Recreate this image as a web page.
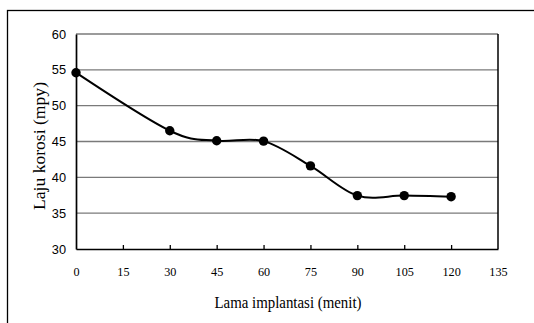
<!DOCTYPE html>
<html>
<head>
<meta charset="utf-8">
<script src="https://cdn.jsdelivr.net/npm/d3@7"></script>
<style>
  body { margin: 0; background: #fff; }
  svg { display: block; }
</style>
</head>
<body>
<div id="chart"></div>
<script>
// data
let minutes = [0, 30, 45, 60, 75, 90, 105, 120]
let rates = [54.6, 46.5, 45.1, 45.05, 41.6, 37.45, 37.45, 37.3]
let xTicks = [0, 15, 30, 45, 60, 75, 90, 105, 120, 135]
let yTicks = [30, 35, 40, 45, 50, 55, 60]

let width = 534
let height = 323
let margin = { top: 34, left: 76, right: 36, bottom: 74 }

let serif = 'Liberation Serif, Times New Roman, serif'

let svg = d3
  .select('#chart')
  .append('svg')
  .attr('width', width)
  .attr('height', height)

// outer frame (only left and top edges fall inside the picture)
svg
  .append('rect')
  .attr('x', 7.5)
  .attr('y', 10.5)
  .attr('width', 540)
  .attr('height', 330)
  .attr('fill', 'none')
  .attr('stroke', '#000')
  .attr('stroke-width', 1.3)

let xScale = d3
  .scaleLinear()
  .domain([0, 135])
  .range([margin.left, width - margin.right])

let yScale = d3
  .scaleLinear()
  .domain([30, 60])
  .range([height - margin.bottom, margin.top])

// gridlines
svg
  .selectAll('.grid')
  .data(yTicks.filter(d => d > 30))
  .enter()
  .append('line')
  .attr('class', 'grid')
  .attr('x1', xScale(0))
  .attr('x2', xScale(135))
  .attr('y1', d => yScale(d))
  .attr('y2', d => yScale(d))
  .attr('stroke', '#7a7a7a')
  .attr('stroke-width', 1.3)

// right border of the plot
svg
  .append('line')
  .attr('x1', xScale(135))
  .attr('x2', xScale(135))
  .attr('y1', yScale(60))
  .attr('y2', yScale(30))
  .attr('stroke', '#000')
  .attr('stroke-width', 1.5)

// x axis with inner ticks
let xAxis = d3
  .axisBottom(xScale)
  .tickValues(xTicks)
  .tickSizeInner(-4)
  .tickSizeOuter(0)
  .tickPadding(17)

let gx = svg
  .append('g')
  .attr('transform', `translate(0,${yScale(30)})`)
  .call(xAxis)
gx.select('.domain').attr('stroke', '#000').attr('stroke-width', 1.7)
gx.selectAll('.tick line').attr('stroke', '#000').attr('stroke-width', 1.3)
gx.selectAll('.tick')
  .filter(d => d === 0 || d === 135)
  .select('line')
  .remove()
gx.selectAll('text')
  .attr('font-family', serif)
  .attr('font-size', 13.5)
  .attr('fill', '#000')
  .attr('textLength', d => String(d).length * 6.1)
  .attr('lengthAdjust', 'spacingAndGlyphs')

// y axis
let yAxis = d3
  .axisLeft(yScale)
  .tickValues(yTicks)
  .tickSize(0)
  .tickPadding(10)

let gy = svg
  .append('g')
  .attr('transform', `translate(${xScale(0)},0)`)
  .call(yAxis)
gy.select('.domain').attr('stroke', '#000').attr('stroke-width', 1.7)
gy.selectAll('text')
  .attr('font-family', 'Liberation Sans, Arial, sans-serif')
  .attr('font-size', 12.8)
  .attr('fill', '#000')

// axis titles (the original font is a narrow Times, so squeeze to length)
svg
  .append('text')
  .text('Lama implantasi (menit)')
  .attr('x', 288)
  .attr('y', 308)
  .attr('text-anchor', 'middle')
  .attr('font-family', serif)
  .attr('font-size', 17.5)
  .attr('textLength', 147)
  .attr('lengthAdjust', 'spacingAndGlyphs')

svg
  .append('text')
  .text('Laju korosi (mpy)')
  .attr('transform', `translate(45,146) rotate(-90)`)
  .attr('text-anchor', 'middle')
  .attr('font-family', serif)
  .attr('font-size', 17.5)
  .attr('textLength', 128)
  .attr('lengthAdjust', 'spacingAndGlyphs')

// smoothed line
let points = minutes.map((m, i) => ({ x: m, y: rates[i] }))

let line = d3
  .line()
  .x(d => xScale(d.x))
  .y(d => yScale(d.y))
  .curve(d3.curveCardinal.tension(0))

svg
  .append('path')
  .datum(points)
  .attr('d', line)
  .attr('fill', 'none')
  .attr('stroke', '#000')
  .attr('stroke-width', 2)

svg
  .selectAll('.dot')
  .data(points)
  .enter()
  .append('circle')
  .attr('class', 'dot')
  .attr('cx', d => xScale(d.x))
  .attr('cy', d => yScale(d.y))
  .attr('r', 4.7)
  .attr('fill', '#000')
</script>
</body>
</html>
